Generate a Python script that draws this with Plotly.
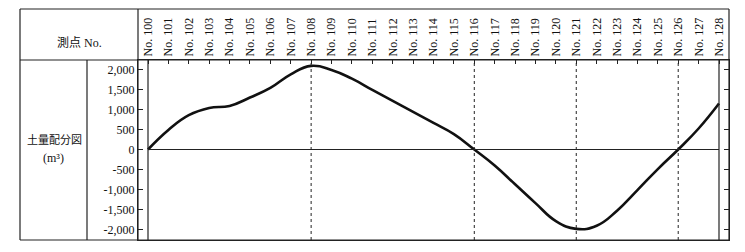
import plotly.graph_objects as go

# ---- data ----
stations = list(range(100, 129))
station_labels = [f"No. {s}" for s in stations]
earth_volume = [0, 490, 860, 1040, 1090, 1300, 1540, 1880, 2090, 1990,
                1770, 1490, 1215, 940, 665, 385, 0, -400, -870, -1340,
                -1790, -1985, -1905, -1530, -1015, -490, 0, 525, 1150]
dotted_stations = [108, 116, 121, 126]
y_ticks = [2000, 1500, 1000, 500, 0, -500, -1000, -1500, -2000]
y_tick_labels = ["2,000", "1,500", "1,000", "500", "0", "-500", "-1,000", "-1,500", "-2,000"]
header_label = "測点 No."
row_label = "土量配分図"
unit_label = "(m³)"

# ---- layout geometry (pixels) ----
W, H = 745, 252
PL, PR, PT, PB = 138, 729, 60, 240  # plot area
pw, ph = PR - PL, PB - PT


def px(x):
    return (x - PL) / pw


def py(y):
    return (PB - y) / ph


SERIF = "Liberation Serif, Noto Sans CJK JP, serif"
LINE = "#222"

fig = go.Figure()
fig.add_trace(go.Scatter(
    x=stations, y=earth_volume, mode="lines",
    line=dict(color="#111", width=2.6, shape="spline", smoothing=1.3),
    hoverinfo="skip", showlegend=False))

shapes = []
# zero line between first and last station
shapes.append(dict(type="line", xref="x", yref="y", x0=stations[0], x1=stations[-1],
                   y0=0, y1=0, line=dict(color=LINE, width=1.2)))
# solid verticals at the first and last station
for s in (stations[0], stations[-1]):
    shapes.append(dict(type="line", xref="x", yref="paper", x0=s, x1=s, y0=0, y1=1,
                       line=dict(color=LINE, width=1.2)))
# dotted verticals
for s in dotted_stations:
    shapes.append(dict(type="line", xref="x", yref="paper", x0=s, x1=s, y0=0, y1=1,
                       line=dict(color=LINE, width=1, dash="dot")))


# table borders
def hline(y, x0, x1):
    shapes.append(dict(type="line", xref="paper", yref="paper", x0=px(x0), x1=px(x1),
                       y0=py(y), y1=py(y), line=dict(color=LINE, width=1.2)))


def vline(x, y0, y1):
    shapes.append(dict(type="line", xref="paper", yref="paper", x0=px(x), x1=px(x),
                       y0=py(y0), y1=py(y1), line=dict(color=LINE, width=1.2)))


hline(9, 20, PR)
hline(PT, 20, PR)
hline(PB, 20, PR)
vline(20, 9, PB)
vline(PR, 9, PB)
vline(PL, 9, PB)
vline(87, PT, PB)

annotations = [
    dict(text=header_label, x=px(79), y=py(43), xref="paper", yref="paper",
         xanchor="center", yanchor="middle",
         showarrow=False, font=dict(family=SERIF, size=12, color="#111")),
    dict(text=row_label, x=px(54), y=py(140), xref="paper", yref="paper",
         xanchor="center", yanchor="middle",
         showarrow=False, font=dict(family=SERIF, size=11, color="#111")),
    dict(text=unit_label, x=px(53), y=py(158), xref="paper", yref="paper",
         xanchor="center", yanchor="middle",
         showarrow=False, font=dict(family=SERIF, size=12, color="#111")),
]

span = stations[-1] - stations[0]
pad = 10 / ((719 - 148) / span)
scale = 20 / 500  # px per unit
ytop = (149.5 - PT) / scale
ybot = -(PB - 149.5) / scale

fig.update_layout(
    width=W, height=H,
    margin=dict(l=PL, r=W - PR, t=PT, b=H - PB, pad=0),
    paper_bgcolor="white", plot_bgcolor="white",
    shapes=shapes, annotations=annotations,
    xaxis=dict(range=[stations[0] - pad, stations[-1] + pad], side="top",
               tickvals=stations, ticktext=station_labels, tickangle=-90,
               ticks="inside", ticklen=4, tickcolor=LINE, tickwidth=1,
               showgrid=False, zeroline=False, showline=True, mirror=True,
               linecolor=LINE, linewidth=1.2,
               tickfont=dict(family=SERIF, size=12, color="#111")),
    yaxis=dict(range=[ybot, ytop], tickvals=y_ticks, ticktext=y_tick_labels,
               ticks="inside", ticklen=5, tickcolor=LINE, tickwidth=1,
               showgrid=False, zeroline=False, showline=True, mirror="ticks",
               linecolor=LINE, linewidth=1.2,
               tickfont=dict(family=SERIF, size=12, color="#111")),
)

fig.write_html("out.html")
